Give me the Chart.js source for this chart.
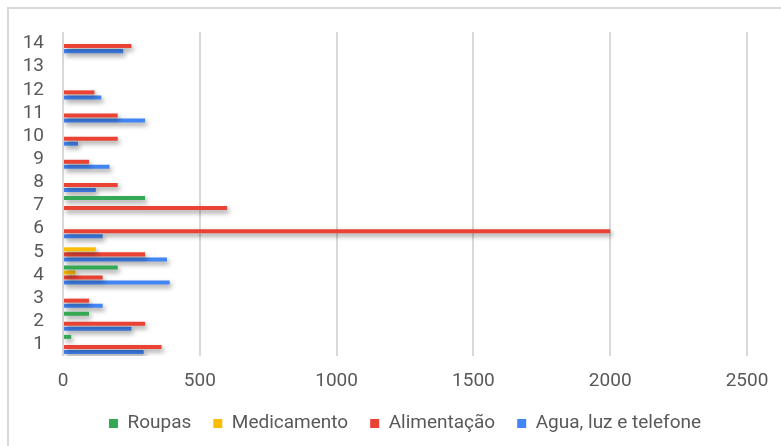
<!DOCTYPE html>
<html>
<head>
<meta charset="utf-8">
<script src="https://cdn.jsdelivr.net/npm/chart.js@4/dist/chart.umd.min.js"></script>
<style>
  html, body { margin: 0; padding: 0; background: #fff; overflow: hidden; }
  #wrap { position: relative; width: 781px; height: 446px; }
  #frame { position: absolute; left: 7px; top: 7px; width: 820px; height: 500px;
           border: 2px solid #d9d9d9; box-sizing: border-box; }
  canvas { position: absolute; left: 0; top: 0; }
</style>
</head>
<body>
<div id="wrap">
  <div id="frame"></div>
  <canvas id="c" width="781" height="446"></canvas>
</div>
<script>
// Categories (bottom to top) and monthly spending per group
const categories = ['1','2','3','4','5','6','7','8','9','10','11','12','13','14'];
const roupas      = [30, 95, null, 200, null, null, 300, null, null, null, null, null, null, null];
const medicamento = [null, null, null, 45, 120, null, null, null, null, null, null, null, null, null];
const alimentacao = [360, 300, 95, 145, 300, 2000, 600, 200, 95, 200, 200, 115, null, 250];
const agua        = [295, 250, 145, 390, 380, 145, null, 120, 170, 55, 300, 140, null, 220];
const xTicks      = [0, 500, 1000, 1500, 2000, 2500];

const seriesNames = ['Roupas', 'Medicamento', 'Alimentação', 'Agua, luz e telefone'];
const seriesColors = ['#34A853', '#FBBC04', '#EA4335', '#4285F4'];
const seriesValues = [roupas, medicamento, alimentacao, agua];

// Soft drop shadow under the bars
const barShadow = {
  id: 'barShadow',
  beforeDatasetsDraw(chart) {
    const ctx = chart.ctx;
    ctx.save();
    ctx.shadowColor = 'rgba(0,0,0,0.4)';
    ctx.shadowBlur = 5;
    ctx.shadowOffsetX = 2;
    ctx.shadowOffsetY = 3;
  },
  afterDatasetsDraw(chart) {
    chart.ctx.restore();
  }
};

const FONT = { family: 'Roboto, "Liberation Sans", Arial, sans-serif', size: 19 };

new Chart(document.getElementById('c'), {
  type: 'bar',
  data: {
    labels: categories,
    datasets: seriesNames.map((name, i) => ({
      label: name,
      data: seriesValues[i],
      backgroundColor: seriesColors[i],
      borderWidth: 0,
      categoryPercentage: 0.87,
      barPercentage: 0.8
    }))
  },
  options: {
    indexAxis: 'y',
    responsive: false,
    animation: false,
    devicePixelRatio: 1,
    layout: { padding: { left: 0, right: 34, top: 32, bottom: 3 } },
    scales: {
      x: {
        min: 0,
        max: 2500,
        afterBuildTicks(scale) { scale.ticks = xTicks.map(v => ({ value: v })); },
        afterFit(scale) {
          scale.height = 36;
          scale.paddingLeft = 0;
          scale.paddingRight = 0;
        },
        grid: { color: '#d9d9d9', lineWidth: 2, drawTicks: false },
        border: { display: false },
        ticks: { color: '#595959', font: FONT, padding: 14, callback: v => String(v) }
      },
      y: {
        reverse: true,
        afterFit(scale) {
          scale.width = 63;
          scale.paddingTop = 0;
          scale.paddingBottom = 0;
        },
        grid: { display: false, drawTicks: false },
        border: { display: false },
        ticks: { color: '#595959', font: FONT, padding: 19, autoSkip: false }
      }
    },
    plugins: {
      legend: {
        position: 'bottom',
        fullSize: false,
        labels: { boxWidth: 9, boxHeight: 9, padding: 22, color: '#595959', font: FONT }
      },
      tooltip: { enabled: false }
    }
  },
  plugins: [barShadow]
});
</script>
</body>
</html>
